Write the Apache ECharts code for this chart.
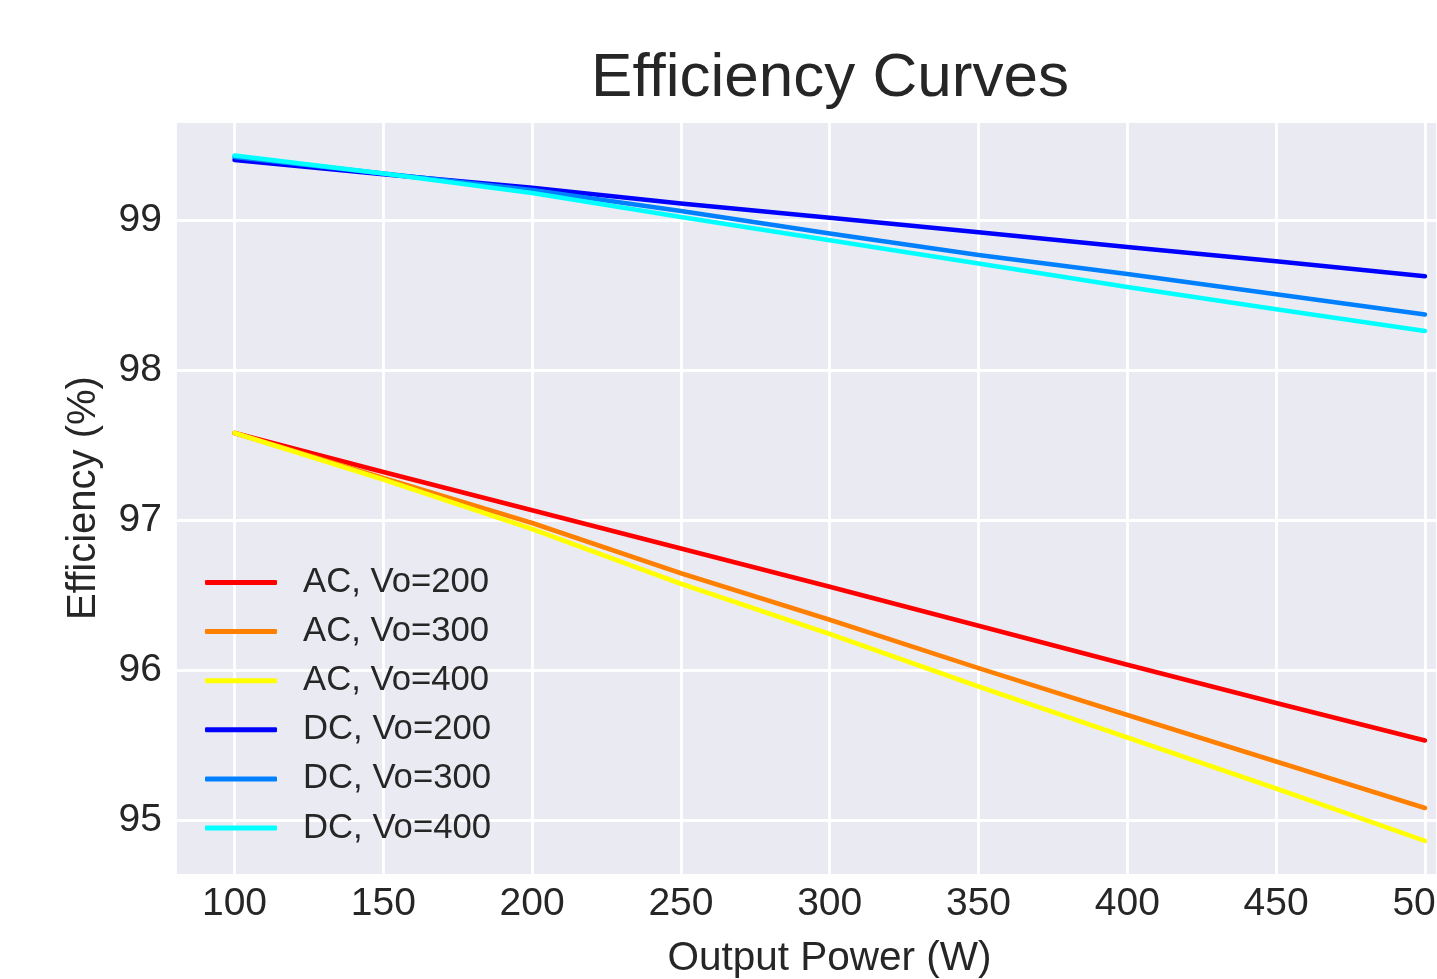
<!DOCTYPE html>
<html>
<head>
<meta charset="utf-8">
<script src="https://cdn.jsdelivr.net/npm/echarts@6/dist/echarts.min.js"></script>
<style>
html,body{margin:0;padding:0;background:#fff;}
#chart{width:1437px;height:979px;}
</style>
</head>
<body>
<div id="chart"></div>
<script>
const power = [100, 150, 200, 250, 300, 350, 400, 450, 500];
const seriesNames = ['AC, Vo=200', 'AC, Vo=300', 'AC, Vo=400', 'DC, Vo=200', 'DC, Vo=300', 'DC, Vo=400'];
const ac200 = [97.58, 97.32, 97.065, 96.81, 96.555, 96.295, 96.035, 95.78, 95.53];
const ac300 = [97.58, 97.28, 96.98, 96.645, 96.335, 96.012, 95.70, 95.39, 95.08];
const ac400 = [97.58, 97.27, 96.94, 96.575, 96.24, 95.89, 95.55, 95.21, 94.86];
const dc200 = [99.40, 99.305, 99.215, 99.11, 99.015, 98.918, 98.82, 98.725, 98.625];
const dc300 = [99.42, 99.31, 99.20, 99.06, 98.91, 98.767, 98.64, 98.505, 98.37];
const dc400 = [99.43, 99.31, 99.18, 99.02, 98.865, 98.71, 98.553, 98.405, 98.26];
const colors = ['#FF0000', '#FF8000', '#FFFF00', '#0000FF', '#0080FF', '#00FFFF'];
const allValues = [ac200, ac300, ac400, dc200, dc300, dc400];

const chart = echarts.init(document.getElementById('chart'), null, {renderer: 'canvas'});
const FONT = '"Liberation Sans", Arial, sans-serif';
const TXT = '#262626';

const series = seriesNames.map((name, i) => ({
  name: name,
  type: 'line',
  data: power.map((p, j) => [p, allValues[i][j]]),
  showSymbol: false,
  symbol: 'none',
  lineStyle: {color: colors[i], width: 4.6, cap: 'round', join: 'round'},
  itemStyle: {color: colors[i]},
  z: 2 + i
}));

chart.setOption({
  animation: false,
  backgroundColor: '#ffffff',
  title: {
    text: 'Efficiency Curves',
    left: 825, top: 43,
    textAlign: 'center',
    textStyle: {fontFamily: FONT, fontSize: 62, fontWeight: 'normal', color: TXT}
  },
  grid: {
    left: 175, top: 121, bottom: 104, right: 0,
    show: true, backgroundColor: '#EAEAF2', borderWidth: 0,
    containLabel: false,
    outerBoundsMode: 'none'
  },
  legend: {
    left: 200, top: 560,
    orient: 'vertical',
    icon: 'roundRect',
    itemWidth: 72, itemHeight: 5,
    itemGap: 14.1,
    data: seriesNames,
    textStyle: {fontFamily: FONT, fontSize: 34.7, color: TXT, lineHeight: 34.2, padding: [0, 0, 0, 21]}
  },
  xAxis: {
    type: 'value',
    min: 80, max: 504.06,
    minInterval: 50, maxInterval: 50, splitNumber: 9,
    name: 'Output Power (W)',
    nameLocation: 'middle', nameGap: 63,
    nameTextStyle: {fontFamily: FONT, fontSize: 40.5, color: TXT, padding: [0, 0, 0, 47]},
    axisLine: {show: false}, axisTick: {show: false},
    axisLabel: {
      fontFamily: FONT, fontSize: 39, color: TXT, margin: 10,
      showMinLabel: false, showMaxLabel: false,
      hideOverlap: false,
      formatter: v => (Math.abs(v % 50) < 1e-6 ? String(v) : '')
    },
    splitLine: {show: true, lineStyle: {color: '#ffffff', width: 2.8}}
  },
  yAxis: {
    type: 'value',
    min: 94.633, max: 99.66,
    minInterval: 1, maxInterval: 1, splitNumber: 5,
    name: 'Efficiency (%)',
    nameLocation: 'middle', nameGap: 71,
    nameTextStyle: {fontFamily: FONT, fontSize: 40, color: TXT},
    axisLine: {show: false}, axisTick: {show: false},
    axisLabel: {
      fontFamily: FONT, fontSize: 39, color: TXT, margin: 13,
      showMinLabel: false, showMaxLabel: false,
      formatter: v => (Math.abs(v - Math.round(v)) < 1e-6 ? String(Math.round(v)) : '')
    },
    splitLine: {show: true, lineStyle: {color: '#ffffff', width: 2.8}}
  },
  series: series
});
</script>
</body>
</html>
